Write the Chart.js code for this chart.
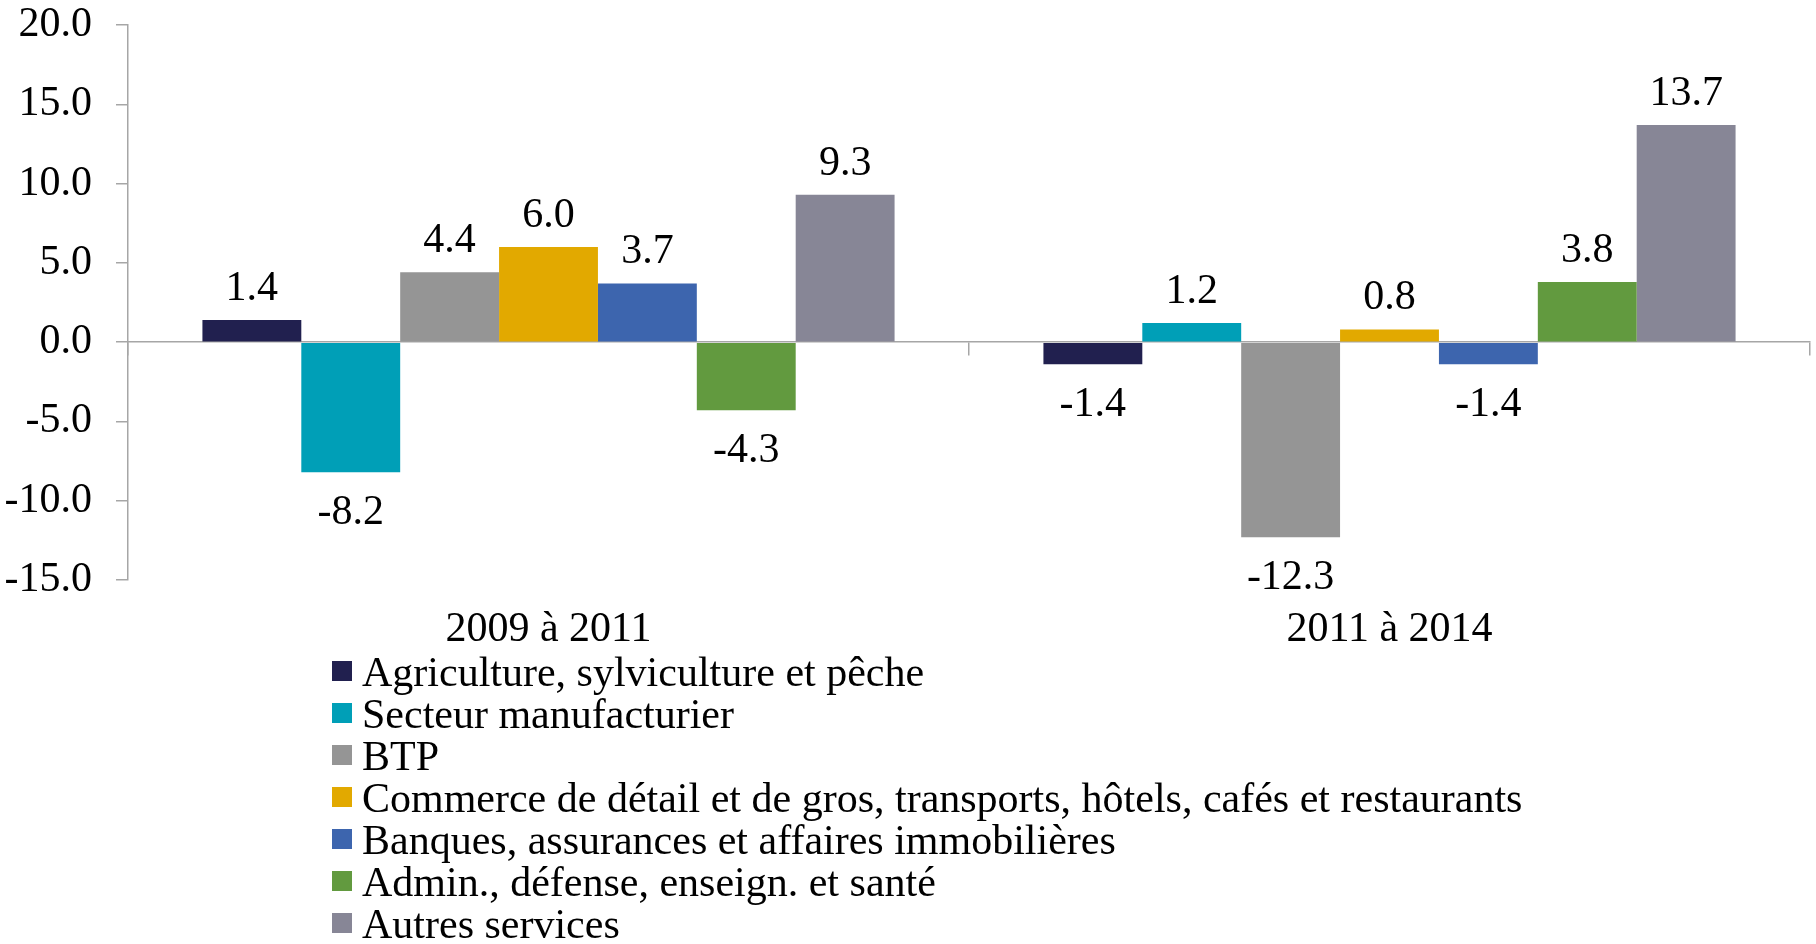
<!DOCTYPE html>
<html>
<head>
<meta charset="utf-8">
<script src="https://cdn.jsdelivr.net/npm/chart.js@4/dist/chart.umd.min.js"></script>
<style>
    body { margin: 0; background: #fff; }
    #wrap { position: relative; width: 1816px; height: 944px; }
    #legend { position: absolute; left: 332px; top: 651px; font-family: "Liberation Serif", "Times New Roman", serif; font-size: 42px; color: #000; }
    .item { display: flex; align-items: center; height: 42px; line-height: 42px; white-space: nowrap; }
    .box { width: 20px; height: 20px; margin-right: 10px; margin-top: -2px; }
</style>
</head>
<body>
<div id="wrap">
    <canvas id="chart" width="1816" height="944"></canvas>
    <div id="legend"></div>
</div>
<script>
let periods = ["2009 à 2011", "2011 à 2014"];

let sectors = [
    "Agriculture, sylviculture et pêche",
    "Secteur manufacturier",
    "BTP",
    "Commerce de détail et de gros, transports, hôtels, cafés et restaurants",
    "Banques, assurances et affaires immobilières",
    "Admin., défense, enseign. et santé",
    "Autres services"
];

let agriculture = [1.4, -1.4];
let manufacturier = [-8.2, 1.2];
let btp = [4.4, -12.3];
let commerce = [6.0, 0.8];
let banques = [3.7, -1.4];
let admin = [-4.3, 3.8];
let autres = [9.3, 13.7];

let yTicks = [-15, -10, -5, 0, 5, 10, 15, 20];

let colors = ["#21204f", "#009fb7", "#959595", "#e2a900", "#3d65ae", "#629a3f", "#878696"];

let series = [agriculture, manufacturier, btp, commerce, banques, admin, autres];

Chart.defaults.font.family = "'Liberation Serif', 'Times New Roman', serif";
Chart.defaults.font.size = 42;
Chart.defaults.color = "#000";

let valueLabels = {
    id: "valueLabels",
    afterDatasetsDraw(chart) {
        let ctx = chart.ctx;
        ctx.save();
        ctx.font = "42px 'Liberation Serif', 'Times New Roman', serif";
        ctx.fillStyle = "#000";
        ctx.textAlign = "center";
        ctx.textBaseline = "alphabetic";
        chart.data.datasets.forEach((ds, i) => {
            chart.getDatasetMeta(i).data.forEach((bar, j) => {
                let v = ds.data[j];
                let y = v >= 0 ? bar.y - 20 : bar.y + 52;
                ctx.fillText(v.toFixed(1), bar.x, y);
            });
        });
        ctx.restore();
    }
};

let datasets = series.map((data, i) => ({
    label: sectors[i],
    data: data,
    backgroundColor: colors[i],
    borderWidth: 0,
    categoryPercentage: 0.823,
    barPercentage: 1
}));

let chart = new Chart(document.getElementById("chart"), {
    type: "bar",
    data: { labels: periods, datasets: datasets },
    plugins: [valueLabels],
    options: {
        responsive: false,
        animation: false,
        layout: { padding: { top: 3, right: 6, bottom: 289, left: 0 } },
        plugins: { legend: { display: false }, tooltip: { enabled: false } },
        scales: {
            x: {
                position: "bottom",
                border: { display: false },
                grid: { display: false, drawTicks: false },
                ticks: { padding: 25 },
                afterFit: scale => { scale.height = 75; }
            },
            x2: {
                type: "category",
                labels: periods,
                position: { y: 0 },
                offset: true,
                border: { display: true, color: "#a6a6a6", width: 1.5 },
                grid: { display: true, offset: true, drawOnChartArea: false, drawTicks: true, tickLength: 13, color: "#a6a6a6", lineWidth: 1.5 },
                ticks: { display: false },
                afterFit: scale => { scale.height = 0; }
            },
            y: {
                min: -15,
                max: 20,
                afterBuildTicks: scale => { scale.ticks = yTicks.map(v => ({ value: v })); },
                afterFit: scale => { scale.width = 128; scale.paddingTop = 25; scale.paddingBottom = 0; },
                border: { display: true, color: "#a6a6a6", width: 1.5 },
                grid: { display: true, drawOnChartArea: false, drawTicks: true, tickLength: 12, color: "#a6a6a6", lineWidth: 1.5 },
                ticks: { padding: 24, callback: v => v.toFixed(1) }
            }
        }
    }
});

let legend = document.getElementById("legend");
chart.data.datasets.forEach(ds => {
    legend.innerHTML += "<div class=\"item\"><span class=\"box\" style=\"background:" + ds.backgroundColor + "\"></span>" + ds.label + "</div>";
});
</script>
</body>
</html>
